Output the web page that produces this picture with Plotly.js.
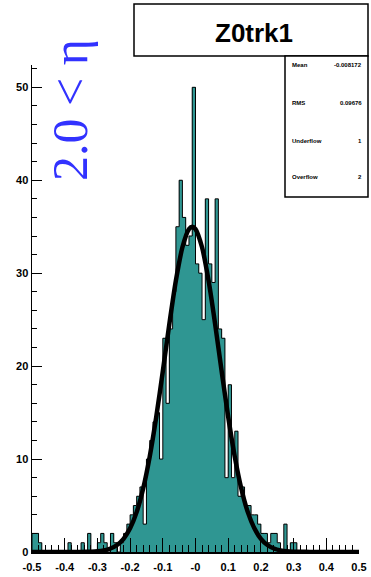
<!DOCTYPE html>
<html><head><meta charset="utf-8">
<script src="https://cdn.plot.ly/plotly-3.0.1.min.js"></script>
<style>html,body{margin:0;padding:0;background:#fff;overflow:hidden}#chart{width:371px;height:577px}</style>
</head><body><div id="chart"></div>
<script>
// ---- data ----
const binLow = -0.5;
const binWidth = 0.01;
const counts = [
  2, 2, 1, 0, 0, 0, 0, 0, 0, 0,
  0, 1, 0, 0, 0, 1, 0, 2, 0, 0,
  1, 2, 1, 0, 2, 1, 0, 1, 2, 3,
  4, 5, 6, 7, 3, 10, 12, 14, 15, 10,
  23, 16, 24, 28, 35, 40, 36, 33, 34, 50,
  31, 30, 25, 38, 31, 29, 38, 24, 23, 8,
  18, 8, 13, 6, 7, 5, 5, 4, 4, 3,
  2, 2, 1, 2, 2, 1, 0, 3, 0, 1,
  1, 0, 0, 0, 0, 0, 0, 0, 0, 0,
  0, 0, 0, 0, 0, 0, 0, 0, 0, 0
];
const fitX = [-0.5, -0.4, -0.35, -0.32, -0.30, -0.28, -0.26, -0.24, -0.22, -0.20, -0.18, -0.16, -0.14, -0.12, -0.10, -0.08, -0.06, -0.04, -0.02, -0.01, 0.00, 0.02, 0.04, 0.06, 0.08, 0.10, 0.12, 0.14, 0.16, 0.18, 0.20, 0.22, 0.24, 0.26, 0.28, 0.30, 0.32, 0.35, 0.4, 0.5];
const fitY = [0, 0, 0.01, 0.04, 0.08, 0.18, 0.38, 0.75, 1.42, 2.55, 4.29, 6.84, 10.27, 14.54, 19.44, 24.53, 29.19, 32.79, 34.75, 35.0, 34.75, 32.79, 29.19, 24.53, 19.44, 14.54, 10.27, 6.84, 4.29, 2.55, 1.42, 0.75, 0.38, 0.18, 0.08, 0.04, 0.02, 0.01, 0, 0];
const xTickVals = [-0.5, -0.4, -0.3, -0.2, -0.1, 0, 0.1, 0.2, 0.3, 0.4, 0.5];
const xTickText = ["-0.5", "-0.4", "-0.3", "-0.2", "-0.1", "-0", "0.1", "0.2", "0.3", "0.4", "0.5"];
const yTickVals = [0, 10, 20, 30, 40, 50];
const statNames = ["Mean", "RMS", "Underflow", "Overflow"];
const statValues = ["-0.008172", "0.09676", "1", "2"];
const histTitle = "Z0trk1";
const etaLabel = "2.0 < \u03b7";

// ---- derived ----
const centers = counts.map((c, i) => binLow + binWidth * (i + 0.5));
const edges = counts.map((c, i) => binLow + binWidth * i);
const lastEdge = binLow + binWidth * counts.length;
const stepX = [edges[0]].concat(edges, [lastEdge, lastEdge]);
const stepY = [0].concat(counts, [counts[counts.length - 1], 0]);

// pixel -> paper helpers (plot area: x 32..359, y 65..552)
const L = 32, R = 359, T = 65, B = 552;
const px = v => (v - L) / (R - L);
const py = v => (B - v) / (B - T);

const teal = '#2f9692';
const boldFont = {family: 'Liberation Sans, Arial, sans-serif', size: 11, color: '#000', weight: 'bold'};

const traces = [
  {type: 'bar', x: centers, y: counts, width: binWidth, marker: {color: teal, line: {width: 0}}, hoverinfo: 'skip'},
  {type: 'scatter', mode: 'lines', x: stepX, y: stepY, line: {color: '#000', width: 1, shape: 'hv'}, hoverinfo: 'skip'},
  {type: 'scatter', mode: 'lines', x: fitX, y: fitY, line: {color: '#000', width: 4.5, shape: 'spline', smoothing: 0.6}, hoverinfo: 'skip'}
];

const statAnn = [];
const rowY = [65, 103, 141, 177];
statNames.forEach((n, i) => {
  statAnn.push({xref: 'paper', yref: 'paper', x: px(290), y: py(rowY[i]), xanchor: 'left', yanchor: 'middle', text: n, showarrow: false, font: {family: 'Liberation Sans, Arial', size: 6, color: '#000', weight: 'bold'}});
  statAnn.push({xref: 'paper', yref: 'paper', x: px(364), y: py(rowY[i]), xanchor: 'right', yanchor: 'middle', text: statValues[i], showarrow: false, font: {family: 'Liberation Sans, Arial', size: 6, color: '#000', weight: 'bold'}});
});

const layout = {
  width: 371, height: 577,
  margin: {l: L, r: 371 - R, t: T, b: 577 - B, pad: 0},
  paper_bgcolor: '#fff', plot_bgcolor: 'rgba(0,0,0,0)',
  showlegend: false, bargap: 0, barmode: 'overlay',
  xaxis: {
    range: [-0.5, 0.5], showline: true, linecolor: '#000', linewidth: 1.5,
    ticks: 'inside', ticklen: 14, tickwidth: 1, tickcolor: '#000',
    tickmode: 'array', tickvals: xTickVals, ticktext: xTickText, tickfont: boldFont,
    showgrid: false, zeroline: false, ticklabelstandoff: 4,
    minor: {ticks: 'inside', ticklen: 7, tickmode: 'linear', tick0: -0.5, dtick: 0.02, tickcolor: '#000', tickwidth: 1, showgrid: false}
  },
  yaxis: {
    range: [0, 52.4], showline: true, linecolor: '#000', linewidth: 1.5,
    ticks: 'inside', ticklen: 10, tickwidth: 1, tickcolor: '#000',
    tickmode: 'array', tickvals: yTickVals, tickfont: boldFont,
    showgrid: false, zeroline: false,
    minor: {ticks: 'inside', ticklen: 5, tickmode: 'linear', tick0: 0, dtick: 2, tickcolor: '#000', tickwidth: 1, showgrid: false}
  },
  shapes: [
    {type: 'rect', xref: 'paper', yref: 'paper', x0: px(134), x1: px(368), y0: py(56), y1: py(4), line: {color: '#000', width: 1.5}, fillcolor: '#fff', layer: 'above'},
    {type: 'rect', xref: 'paper', yref: 'paper', x0: px(285), x1: px(368), y0: py(197), y1: py(56), line: {color: '#000', width: 1.5}, fillcolor: '#fff', layer: 'above'}
  ],
  annotations: [
    {xref: 'paper', yref: 'paper', x: px(254), y: py(33), xanchor: 'center', yanchor: 'middle', text: histTitle, showarrow: false, font: {family: 'Liberation Sans, Arial', size: 26, color: '#000', weight: 'bold'}},
    {xref: 'paper', yref: 'paper', x: px(70), y: py(110), xanchor: 'center', yanchor: 'middle', text: etaLabel, textangle: -90, showarrow: false, font: {family: 'Liberation Serif, Times New Roman, serif', size: 50, color: '#3232ff'}}
  ].concat(statAnn)
};

Plotly.newPlot('chart', traces, layout, {staticPlot: true, displayModeBar: false});
</script>
</body></html>
